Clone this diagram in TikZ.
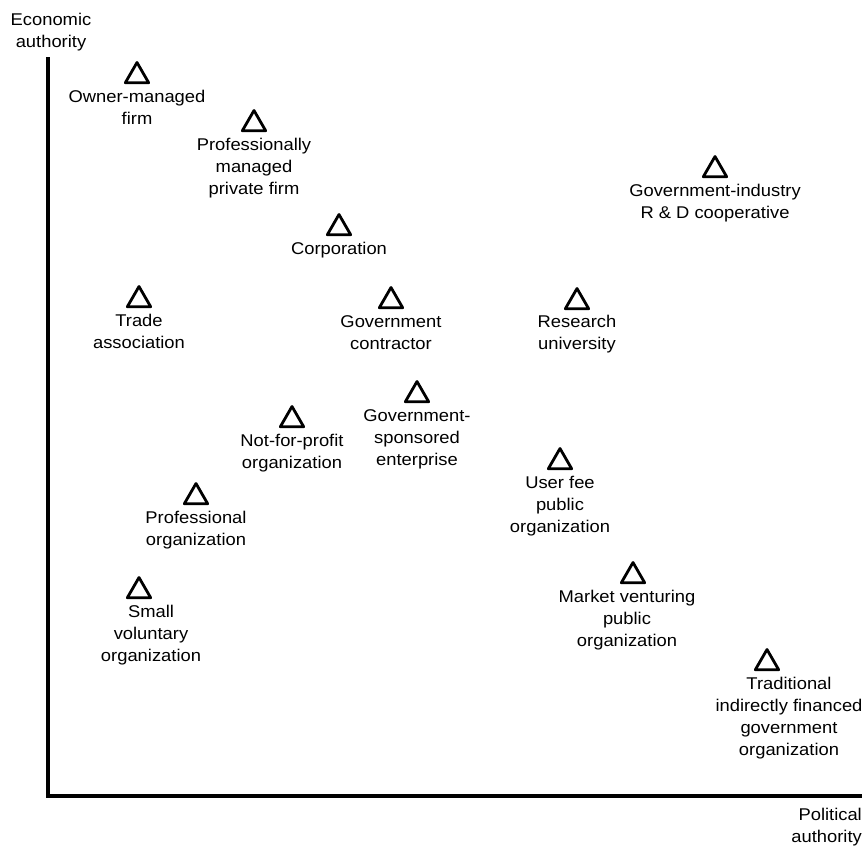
\documentclass[tikz,border=0pt]{standalone}
\usepackage{fontspec}
\setmainfont[FakeStretch=1.08]{Liberation Sans}
\usetikzlibrary{positioning}
\usetikzlibrary{shapes.geometric}

\tikzset{
  org/.style={draw=black, regular polygon, regular polygon sides=3, minimum size=27pt,
    inner sep=0pt, line width=2.8pt, line join=round},
  lbl/.style={align=center, inner sep=1pt, font=\fontsize{17}{22}\selectfont},
  axis/.style={line width=3.5pt, black}
}

\begin{document}
\begin{tikzpicture}[x=1pt, y=-1pt]
  \useasboundingbox (0,0) rectangle (864,849);

  % axes
  \coordinate (top)    at (48, 57);
  \coordinate (origin) at (48, 796);
  \coordinate (right)  at (862, 796);
  \draw[axis] (top) -- (origin) -- (right);

  \node[lbl] (econ) at (51, 32)  {Economic\\authority};
  \node[lbl, align=right, anchor=east] (pol) at (863, 827) {Political\\authority};

  % organizations
  \node[org] (t1)  at (137, 76)  {};
  \node[org] (t2)  at (254, 124) {};
  \node[org] (t3)  at (339, 228) {};
  \node[org] (t4)  at (715, 170) {};
  \node[org] (t5)  at (139, 300) {};
  \node[org] (t6)  at (391, 301) {};
  \node[org] (t7)  at (577, 302) {};
  \node[org] (t8)  at (417, 395) {};
  \node[org] (t9)  at (292, 420) {};
  \node[org] (t10) at (560, 462) {};
  \node[org] (t11) at (196, 497) {};
  \node[org] (t12) at (139, 591) {};
  \node[org] (t13) at (633, 576) {};
  \node[org] (t14) at (767, 663) {};

  \node[lbl, below=5pt of t1]  (l1)  {Owner-managed\\firm};
  \node[lbl, below=5pt of t2]  (l2)  {Professionally\\managed\\private firm};
  \node[lbl, below=5pt of t3]  (l3)  {Corporation};
  \node[lbl, below=5pt of t4]  (l4)  {Government-industry\\R \& D cooperative};
  \node[lbl, below=5pt of t5]  (l5)  {Trade\\association};
  \node[lbl, below=5pt of t6]  (l6)  {Government\\contractor};
  \node[lbl, below=4pt of t7]  (l7)  {Research\\university};
  \node[lbl, below=5pt of t8]  (l8)  {Government-\\sponsored\\enterprise};
  \node[lbl, below=5pt of t9]  (l9)  {Not-for-profit\\organization};
  \node[lbl, below=5pt of t10] (l10) {User fee\\public\\organization};
  \node[lbl, below=5pt of t11] (l11) {Professional\\organization};
  \node[lbl, below=5pt of t12, xshift=12pt] (l12) {Small\\voluntary\\organization};
  \node[lbl, below=5pt of t13, xshift=-6pt] (l13) {Market venturing\\public\\organization};
  \node[lbl, below=5pt of t14, xshift=22pt] (l14) {Traditional\\indirectly financed\\government\\organization};
\end{tikzpicture}
\end{document}
